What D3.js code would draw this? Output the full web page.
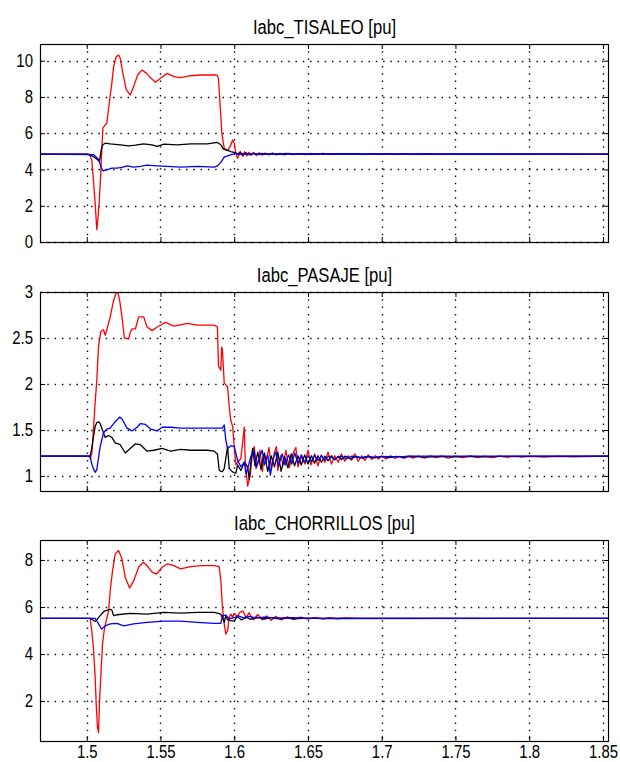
<!DOCTYPE html>
<html>
<head>
<meta charset="utf-8">
<script src="https://cdn.jsdelivr.net/npm/d3@7"></script>
<style>
  body { margin: 0; background: #fff; }
  svg { display: block; }
  text { font-family: "Liberation Sans", Arial, Helvetica, sans-serif; fill: #000; }
  .tick text { font-size: 18px; }
  .title { font-size: 20px; }
</style>
</head>
<body>
<script>
// time axis
var xRange = [1.4683, 1.8541];
var xTicks = [1.5, 1.55, 1.6, 1.65, 1.7, 1.75, 1.8, 1.85];

// ---- Iabc_TISALEO ----
var titleTisaleo = 'Iabc_TISALEO [pu]';
var yTicksTisaleo = [0, 2, 4, 6, 8, 10];
var redTisaleo = [
  [1.4683,4.85],[1.5018,4.85],[1.5034,4.53],[1.5045,3.43],[1.5057,2.15],[1.5064,1.23],[1.5068,0.68],
  [1.5075,1.23],[1.5084,2.15],[1.5095,3.8],[1.5109,6.28],[1.5125,6.46],[1.5136,6.55],[1.5155,7.83],
  [1.517,8.75],[1.5182,9.67],[1.52,10.22],[1.5216,10.31],[1.5227,10.13],[1.5245,9.3],[1.5268,8.39],
  [1.5295,8.11],[1.5318,8.57],[1.5345,9.21],[1.5375,9.49],[1.5405,9.3],[1.5436,9.03],[1.5466,8.81],
  [1.55,9.03],[1.5545,9.3],[1.5591,9.12],[1.5636,9.06],[1.5705,9.17],[1.5773,9.21],[1.5882,9.21],
  [1.5893,9.03],[1.5905,7.47],[1.5916,6.0],[1.5932,5.17],[1.5955,5.05],[1.5973,5.27],[1.5989,5.63],
  [1.6,5.45],[1.6011,4.9],[1.6023,4.62],[1.6041,5.0],[1.6057,4.72],[1.607,4.98],[1.6085,4.75],
  [1.61,4.95],[1.6115,4.78],[1.613,4.93],[1.615,4.77],[1.617,4.92],[1.619,4.79],[1.621,4.91],
  [1.6235,4.8],[1.626,4.9],[1.6285,4.8],[1.631,4.89],[1.634,4.81],[1.637,4.89],[1.64,4.82],
  [1.644,4.88],[1.648,4.82],[1.652,4.88],[1.656,4.83],[1.66,4.88],[1.665,4.83],[1.67,4.87],
  [1.675,4.83],[1.68,4.87],[1.686,4.83],[1.692,4.87],[1.698,4.84],[1.704,4.87],[1.71,4.84],
  [1.716,4.87],[1.722,4.84],[1.728,4.86],[1.74,4.85],[1.8541,4.85]
];
var blackTisaleo = [
  [1.4683,4.85],[1.5,4.85],[1.5045,4.72],[1.5068,4.57],[1.5086,4.44],[1.5098,5.08],[1.5109,5.36],
  [1.5125,5.45],[1.5159,5.41],[1.5227,5.36],[1.5284,5.3],[1.533,5.34],[1.5386,5.41],[1.5443,5.36],
  [1.5477,5.27],[1.5523,5.4],[1.5614,5.36],[1.5705,5.41],[1.5818,5.41],[1.5886,5.49],[1.5909,5.36],
  [1.5927,5.12],[1.5955,5.05],[1.5977,4.99],[1.6,4.94],[1.6023,4.86],[1.604,4.93],[1.606,4.8],
  [1.608,4.92],[1.61,4.81],[1.613,4.9],[1.616,4.82],[1.619,4.89],[1.622,4.83],[1.626,4.88],
  [1.63,4.83],[1.635,4.88],[1.64,4.84],[1.646,4.87],[1.652,4.84],[1.66,4.86],[1.67,4.845],
  [1.68,4.86],[1.69,4.85],[1.8541,4.85]
];
var blueTisaleo = [
  [1.4683,4.85],[1.5045,4.82],[1.508,4.57],[1.5095,4.17],[1.5109,3.93],[1.5136,3.98],[1.517,4.07],
  [1.5205,4.07],[1.5239,4.11],[1.5273,4.2],[1.5318,4.13],[1.5364,4.17],[1.5409,4.24],[1.5477,4.2],
  [1.5545,4.17],[1.5636,4.13],[1.575,4.17],[1.5864,4.13],[1.5886,4.2],[1.5909,4.39],[1.5932,4.68],
  [1.5955,4.75],[1.5989,4.84],[1.601,4.9],[1.603,4.82],[1.606,4.88],[1.609,4.83],[1.613,4.87],
  [1.618,4.84],[1.625,4.86],[1.8541,4.85]
];

// ---- Iabc_PASAJE ----
var titlePasaje = 'Iabc_PASAJE [pu]';
var yTicksPasaje = [1, 1.5, 2, 2.5, 3];
var redPasaje = [
  [1.4683,1.215],[1.502,1.215],[1.5023,1.19],[1.5035,1.25],[1.5045,1.5],[1.5057,1.8],[1.5068,2.04],
  [1.508,2.41],[1.5095,2.57],[1.5114,2.59],[1.5125,2.53],[1.5136,2.59],[1.5159,2.73],[1.5182,2.91],
  [1.52,2.99],[1.5212,2.99],[1.5223,2.91],[1.5239,2.73],[1.5255,2.5],[1.5284,2.49],[1.5295,2.56],
  [1.5307,2.6],[1.533,2.6],[1.5352,2.73],[1.5386,2.73],[1.5409,2.62],[1.5443,2.58],[1.5477,2.62],
  [1.5534,2.67],[1.5591,2.63],[1.5682,2.66],[1.575,2.64],[1.5864,2.64],[1.5886,2.62],[1.5893,2.2],
  [1.5898,2.18],[1.5909,2.15],[1.5915,2.4],[1.592,2.37],[1.5932,2.01],[1.5955,1.97],[1.5966,1.75],
  [1.5977,1.6],[1.5989,1.54],[1.6,1.32],[1.6011,1.12],[1.6023,1.15],[1.6045,1.19],[1.6068,1.53],
  [1.6075,1.14],[1.6091,0.89],[1.6109,1.02],[1.6125,1.27],[1.6136,1.32],[1.6148,1.08],[1.6159,1.13],
  [1.6175,1.28],[1.6191,1.05],[1.6204,1.24],[1.6214,1.15],[1.6236,1.31],[1.6252,1.07],[1.627,1.24],
  [1.6286,1.32],[1.6295,1.06],[1.6314,1.22],[1.6332,1.12],[1.635,1.28],[1.6363,1.16],[1.6373,1.09],
  [1.6395,1.23],[1.6418,1.31],[1.6432,1.1],[1.6455,1.21],[1.648,1.13],[1.65,1.28],[1.652,1.12],
  [1.6545,1.24],[1.6568,1.11],[1.659,1.23],[1.6614,1.15],[1.6636,1.26],[1.6659,1.13],[1.6682,1.22],
  [1.6705,1.15],[1.6727,1.24],[1.675,1.16],[1.6773,1.22],[1.6795,1.17],[1.6818,1.24],[1.6841,1.16],
  [1.6864,1.22],[1.6886,1.17],[1.6909,1.23],[1.6932,1.18],[1.6955,1.22],[1.6977,1.185],[1.7,1.215],
  [1.703,1.185],[1.706,1.22],[1.709,1.19],[1.712,1.215],[1.715,1.19],[1.718,1.22],[1.721,1.195],
  [1.725,1.215],[1.729,1.195],[1.733,1.22],[1.737,1.2],[1.741,1.215],[1.745,1.195],[1.75,1.215],
  [1.755,1.2],[1.76,1.218],[1.765,1.2],[1.77,1.215],[1.775,1.2],[1.78,1.215],[1.785,1.203],
  [1.79,1.213],[1.795,1.205],[1.8,1.214],[1.81,1.205],[1.82,1.213],[1.83,1.207],[1.8541,1.215]
];
var blackPasaje = [
  [1.4683,1.215],[1.5023,1.215],[1.5034,1.3],[1.5045,1.42],[1.5057,1.54],[1.5068,1.58],[1.508,1.59],
  [1.5091,1.57],[1.5102,1.52],[1.5125,1.42],[1.5148,1.44],[1.517,1.42],[1.5193,1.36],[1.5227,1.34],
  [1.5261,1.25],[1.5295,1.3],[1.533,1.35],[1.5364,1.34],[1.5409,1.27],[1.5455,1.28],[1.5511,1.3],
  [1.5568,1.27],[1.5636,1.29],[1.5705,1.28],[1.5818,1.28],[1.5864,1.27],[1.5886,1.24],[1.5898,1.065],
  [1.5909,1.05],[1.592,1.047],[1.5932,1.08],[1.5955,1.32],[1.5966,1.08],[1.5989,1.045],[1.6,1.035],
  [1.6011,1.03],[1.6023,1.12],[1.6045,1.06],[1.6068,1.15],[1.6091,1.1],[1.6102,0.96],[1.6114,1.17],
  [1.6125,1.3],[1.6141,1.11],[1.6159,1.26],[1.6182,1.07],[1.6195,1.2],[1.6205,1.25],[1.6227,1.05],
  [1.625,1.22],[1.6273,1.1],[1.6295,1.26],[1.6318,1.05],[1.6341,1.21],[1.6364,1.09],[1.6386,1.24],
  [1.6409,1.11],[1.6432,1.22],[1.6455,1.12],[1.6477,1.23],[1.65,1.13],[1.6523,1.22],[1.6545,1.14],
  [1.6568,1.22],[1.6591,1.15],[1.6614,1.215],[1.6636,1.165],[1.6659,1.22],[1.6682,1.175],[1.6705,1.215],
  [1.6727,1.18],[1.675,1.215],[1.679,1.19],[1.683,1.214],[1.687,1.195],[1.691,1.212],[1.695,1.198],
  [1.7,1.213],[1.705,1.2],[1.71,1.214],[1.715,1.203],[1.72,1.213],[1.73,1.205],[1.74,1.214],
  [1.75,1.207],[1.76,1.213],[1.77,1.208],[1.78,1.213],[1.8541,1.215]
];
var bluePasaje = [
  [1.4683,1.215],[1.5023,1.215],[1.5034,1.13],[1.5045,1.08],[1.5057,1.04],[1.5068,1.07],[1.5091,1.32],
  [1.5114,1.47],[1.5136,1.51],[1.5159,1.52],[1.5193,1.59],[1.5223,1.64],[1.5239,1.62],[1.5273,1.52],
  [1.5307,1.49],[1.5341,1.53],[1.5364,1.57],[1.5398,1.56],[1.5432,1.51],[1.5477,1.49],[1.5511,1.53],
  [1.557,1.53],[1.5636,1.52],[1.575,1.52],[1.5864,1.52],[1.592,1.52],[1.5932,1.555],[1.5943,1.39],
  [1.5955,1.3],[1.5977,1.33],[1.6,1.32],[1.6023,1.17],[1.6045,1.1],[1.6068,1.15],[1.608,1.02],
  [1.6091,1.08],[1.6114,1.22],[1.6136,1.27],[1.615,1.1],[1.617,1.2],[1.619,1.28],[1.6205,1.12],
  [1.6227,1.23],[1.6245,1.01],[1.626,1.17],[1.6282,1.26],[1.63,1.11],[1.6325,1.24],[1.6345,1.12],
  [1.6368,1.23],[1.639,1.13],[1.641,1.25],[1.6432,1.14],[1.6455,1.23],[1.6477,1.15],[1.65,1.22],
  [1.6523,1.16],[1.6545,1.225],[1.6568,1.17],[1.6591,1.22],[1.6614,1.175],[1.664,1.215],[1.668,1.185],
  [1.672,1.215],[1.676,1.19],[1.68,1.215],[1.685,1.198],[1.69,1.214],[1.695,1.203],[1.7,1.214],
  [1.71,1.207],[1.72,1.215],[1.8541,1.215]
];

// ---- Iabc_CHORRILLOS ----
var titleChorrillos = 'Iabc_CHORRILLOS [pu]';
var yTicksChorrillos = [2, 4, 6, 8];
var redChorrillos = [
  [1.4683,5.52],[1.5023,5.52],[1.5034,4.99],[1.5045,4.28],[1.5057,3.01],[1.5064,1.87],[1.5073,0.88],
  [1.508,0.66],[1.5086,1.87],[1.5095,3.01],[1.5107,4.43],[1.5118,4.99],[1.5132,5.42],[1.5148,5.84],
  [1.5159,6.7],[1.5175,7.55],[1.5193,8.26],[1.5216,8.4],[1.5239,8.04],[1.5261,7.26],[1.5291,6.81],
  [1.5318,7.12],[1.5352,7.69],[1.5382,7.9],[1.5409,7.76],[1.5443,7.48],[1.5473,7.4],[1.5511,7.69],
  [1.5545,7.83],[1.5591,7.76],[1.5636,7.62],[1.5705,7.72],[1.5773,7.76],[1.5864,7.76],[1.5898,7.72],
  [1.5909,7.12],[1.592,5.99],[1.5932,5.28],[1.5943,4.85],[1.5955,4.99],[1.5966,5.56],[1.5977,5.7],
  [1.5989,5.56],[1.6,5.72],[1.602,5.6],[1.604,5.78],[1.606,5.82],[1.608,5.55],[1.61,5.75],
  [1.613,5.45],[1.616,5.68],[1.619,5.45],[1.622,5.62],[1.625,5.43],[1.628,5.6],[1.632,5.45],
  [1.636,5.58],[1.64,5.47],[1.645,5.57],[1.65,5.48],[1.655,5.56],[1.66,5.49],[1.665,5.55],
  [1.67,5.5],[1.675,5.54],[1.685,5.52],[1.8541,5.52]
];
var blackChorrillos = [
  [1.4683,5.52],[1.5023,5.52],[1.5057,5.38],[1.5091,5.63],[1.5118,5.82],[1.5136,5.86],[1.5159,5.9],
  [1.517,5.88],[1.5182,5.63],[1.5205,5.67],[1.5295,5.73],[1.5409,5.7],[1.5523,5.77],[1.5636,5.74],
  [1.575,5.77],[1.5864,5.77],[1.5909,5.7],[1.592,5.53],[1.5932,5.35],[1.5943,5.62],[1.5955,5.45],
  [1.5977,5.42],[1.6,5.4],[1.602,5.6],[1.605,5.45],[1.608,5.58],[1.611,5.47],[1.615,5.57],
  [1.62,5.49],[1.625,5.55],[1.63,5.5],[1.635,5.54],[1.64,5.5],[1.65,5.53],[1.66,5.51],[1.8541,5.52]
];
var blueChorrillos = [
  [1.4683,5.52],[1.5057,5.52],[1.508,5.28],[1.5102,5.06],[1.5125,5.2],[1.5159,5.28],[1.5205,5.3],
  [1.525,5.2],[1.5318,5.28],[1.5409,5.35],[1.5523,5.4],[1.5636,5.4],[1.575,5.35],[1.5864,5.3],
  [1.5909,5.3],[1.592,5.63],[1.5943,5.65],[1.5966,5.5],[1.6,5.55],[1.603,5.62],[1.607,5.52],
  [1.61,5.6],[1.615,5.53],[1.62,5.57],[1.63,5.53],[1.64,5.55],[1.65,5.52],[1.8541,5.52]
];

const w = 620;
const h = 762;
const left = 40;
const right = 609;
const squeeze = 0.83; // the original labels use a narrow face

var svg = d3.select('body')
  .append('svg')
  .attr('width', w)
  .attr('height', h)

svg.append('rect')
  .attr('width', w)
  .attr('height', h)
  .attr('fill', '#fff')

var xScale = d3.scaleLinear()
  .domain(xRange)
  .range([left, right])

var formatTick = function(d) { return String(+d.toFixed(2)); }

function narrow(sel) {
  sel.each(function() {
    var len = this.getComputedTextLength();
    if (len > 0) {
      d3.select(this)
        .attr('textLength', len * squeeze)
        .attr('lengthAdjust', 'spacingAndGlyphs')
    }
  })
}

function drawPanel(id, title, top, bottom, yDomain, yTicks, series, showX) {
  var yScale = d3.scaleLinear()
    .domain(yDomain)
    .range([bottom, top])

  var g = svg.append('g').attr('id', id)

  // dotted grid
  g.selectAll('.gx')
    .data(xTicks)
    .enter()
    .append('line')
    .attr('x1', (d) => Math.round(xScale(d)) + 0.5)
    .attr('x2', (d) => Math.round(xScale(d)) + 0.5)
    .attr('y1', top)
    .attr('y2', bottom)
    .attr('stroke', '#111')
    .attr('stroke-width', 1.4)
    .attr('stroke-dasharray', '1.5,5.8')

  g.selectAll('.gy')
    .data(yTicks)
    .enter()
    .append('line')
    .attr('x1', left)
    .attr('x2', right)
    .attr('y1', (d) => Math.round(yScale(d)) + 0.5)
    .attr('y2', (d) => Math.round(yScale(d)) + 0.5)
    .attr('stroke', '#111')
    .attr('stroke-width', 1.4)
    .attr('stroke-dasharray', '1.5,5.8')

  var clipId = 'clip-' + id
  g.append('clipPath')
    .attr('id', clipId)
    .append('rect')
    .attr('x', left)
    .attr('y', top)
    .attr('width', right - left)
    .attr('height', bottom - top)

  var line = d3.line()
    .x((d) => xScale(d[0]))
    .y((d) => yScale(d[1]))

  series.forEach(function(s) {
    g.append('path')
      .datum(s.values)
      .attr('clip-path', 'url(#' + clipId + ')')
      .attr('fill', 'none')
      .attr('stroke', s.color)
      .attr('stroke-width', 1.3)
      .attr('stroke-linejoin', 'round')
      .attr('d', line)
  })

  // ticks on all four sides, pointing inward
  g.append('g')
    .attr('transform', 'translate(' + left + ',0)')
    .call(d3.axisLeft(yScale).tickValues(yTicks).tickSize(-5).tickPadding(7).tickFormat(formatTick))
  g.append('g')
    .attr('transform', 'translate(' + right + ',0)')
    .call(d3.axisRight(yScale).tickValues(yTicks).tickSize(-5).tickFormat(''))
  g.append('g')
    .attr('transform', 'translate(0,' + bottom + ')')
    .call(d3.axisBottom(xScale).tickValues(xTicks).tickSize(-5).tickPadding(4).tickFormat(showX ? formatTick : ''))
  g.append('g')
    .attr('transform', 'translate(0,' + top + ')')
    .call(d3.axisTop(xScale).tickValues(xTicks).tickSize(-5).tickFormat(''))

  g.selectAll('.domain').remove()
  g.selectAll('.tick line').attr('stroke', '#000')
  g.selectAll('.tick text').attr('font-family', null).attr('font-size', null)
  narrow(g.selectAll('.tick text'))

  g.append('rect')
    .attr('x', left + 0.5)
    .attr('y', top + 0.5)
    .attr('width', right - left - 1)
    .attr('height', bottom - top)
    .attr('fill', 'none')
    .attr('stroke', '#000')
    .attr('stroke-width', 1.2)

  g.append('text')
    .attr('class', 'title')
    .attr('text-anchor', 'middle')
    .attr('x', (left + right) / 2)
    .attr('y', top - 10)
    .text(title)
    .call(narrow)
}

drawPanel('p1', titleTisaleo, 44, 242, [0, 10.92], yTicksTisaleo, [
  {color: '#ff0000', values: redTisaleo},
  {color: '#000000', values: blackTisaleo},
  {color: '#0000ff', values: blueTisaleo}
], false)

drawPanel('p2', titlePasaje, 292, 491, [0.837, 3], yTicksPasaje, [
  {color: '#ff0000', values: redPasaje},
  {color: '#000000', values: blackPasaje},
  {color: '#0000ff', values: bluePasaje}
], false)

drawPanel('p3', titleChorrillos, 540, 741, [0.3, 8.85], yTicksChorrillos, [
  {color: '#ff0000', values: redChorrillos},
  {color: '#000000', values: blackChorrillos},
  {color: '#0000ff', values: blueChorrillos}
], true)
</script>
</body>
</html>
